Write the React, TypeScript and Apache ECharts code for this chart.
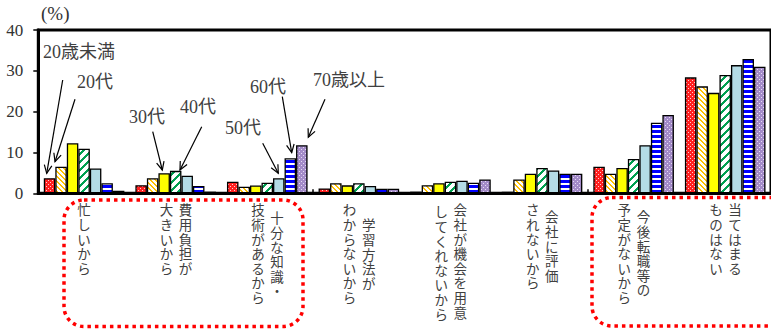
import React, { useEffect, useRef } from "react";
import * as echarts from "echarts";

// ---- data ----
const categoryLines: string[][] = [
  ["忙しいから"],
  ["費用負担が", "大きいから"],
  ["十分な知識・", "技術があるから"],
  ["学習方法が", "わからないから"],
  ["会社が機会を用意", "してくれないから"],
  ["会社に評価", "されないから"],
  ["今後転職等の", "予定がないから"],
  ["当てはまる", "ものはない"],
];
const categories = categoryLines.map((l) => l.join(""));
const ageGroups = ["20歳未満", "20代", "30代", "40代", "50代", "60代", "70歳以上"];
const under20 = [3.7, 2.0, 2.85, 1.2, 0.4, 0.4, 6.5, 28.4];
const twenties = [6.5, 3.7, 1.6, 2.45, 2.0, 3.4, 4.8, 26.2];
const thirties = [12.25, 4.9, 1.9, 1.95, 2.45, 4.8, 6.2, 24.6];
const forties = [10.9, 5.5, 2.6, 2.45, 2.85, 6.2, 8.4, 29.0];
const fifties = [6.1, 4.3, 3.7, 1.8, 3.1, 5.6, 11.8, 31.4];
const sixties = [2.45, 1.8, 8.6, 1.1, 2.6, 4.8, 17.3, 32.9];
const seventiesPlus = [0.65, 0.4, 11.8, 1.1, 3.4, 4.8, 19.2, 31.0];
const seriesValues = [under20, twenties, thirties, forties, fifties, sixties, seventiesPlus];
const yMin = 0;
const yMax = 40;
const yInterval = 10;

// ---- styles ----
// vertical offset (px) of each label column, first entry = right-most column
const columnOffsets: number[][] = [[0], [0, 0], [8, 0], [15, 0], [0, 2], [7, 0], [7, 0], [0, 0]];

type Kind = "red" | "orange" | "yellow" | "green" | "lightblue" | "blue" | "purple";
const seriesKinds: Kind[] = ["red", "orange", "yellow", "green", "lightblue", "blue", "purple"];

function makePattern(kind: Kind): any {
  if (kind === "yellow") return "#ffff00";
  if (kind === "lightblue") return "#b4dce6";
  const sizes: Record<string, number> = { red: 4, orange: 5, green: 8, blue: 5, purple: 4 };
  const n = sizes[kind];
  const c = document.createElement("canvas");
  c.width = n;
  c.height = n;
  const ctx = c.getContext("2d")!;
  for (let y = 0; y < n; y++) {
    for (let x = 0; x < n; x++) {
      let col = "#ffffff";
      if (kind === "red") {
        col = (x === 0 && y === 0) || (x === 2 && y === 2) ? "#ffd0d0" : "#ff2020";
      } else if (kind === "purple") {
        col = (x === 1 && y === 1) || (x === 3 && y === 3) ? "#e6dcf4" : "#a38bc8";
      } else if (kind === "orange") {
        col = (((x - y) % n) + n) % n < 2 ? "#ffc000" : "#ffffff";
      } else if (kind === "green") {
        col = (x + y) % n < 3 ? "#00a050" : "#ffffff";
      } else if (kind === "blue") {
        col = y < 3 ? "#0000ff" : "#ffffff";
      }
      ctx.fillStyle = col;
      ctx.fillRect(x, y, 1, 1);
    }
  }
  return { image: c, repeat: "repeat", imageWidth: n, imageHeight: n };
}

type Ann = { text: string; x: number; y: number; from: [number, number]; to: [number, number] };
const annotations: Ann[] = [
  { text: "20歳未満", x: 43, y: 52, from: [62.7, 80], to: [46.7, 173.3] },
  { text: "20代", x: 77, y: 82, from: [75, 99.3], to: [55, 161.7] },
  { text: "30代", x: 129, y: 117, from: [152.7, 131.7], to: [162.3, 170] },
  { text: "40代", x: 180, y: 107, from: [201.7, 126.7], to: [180, 170] },
  { text: "50代", x: 225, y: 128, from: [262.7, 143.3], to: [278.3, 173.3] },
  { text: "60代", x: 250, y: 87, from: [282.3, 96.7], to: [291.7, 152.7] },
  { text: "70歳以上", x: 313, y: 80, from: [325, 99.3], to: [308.3, 137.3] },
];

function arrowElements(from: [number, number], to: [number, number]): any[] {
  const dx = to[0] - from[0];
  const dy = to[1] - from[1];
  const len = Math.sqrt(dx * dx + dy * dy);
  const ux = dx / len;
  const uy = dy / len;
  const h = 9;
  const a = (25 * Math.PI) / 180;
  const rot = (ang: number): [number, number] => {
    const rx = ux * Math.cos(ang) - uy * Math.sin(ang);
    const ry = ux * Math.sin(ang) + uy * Math.cos(ang);
    return [to[0] - rx * h, to[1] - ry * h];
  };
  return [
    {
      type: "line",
      shape: { x1: from[0], y1: from[1], x2: to[0], y2: to[1] },
      style: { stroke: "#000", lineWidth: 1.2 },
      z: 100,
    },
    {
      type: "polyline",
      shape: { points: [rot(a), to, rot(-a)] },
      style: { stroke: "#000", lineWidth: 1.2, fill: "none" },
      z: 100,
    },
  ];
}

export default function App() {
  const ref = useRef<HTMLDivElement>(null);
  useEffect(() => {
    if (!ref.current) return;
    const chart = echarts.init(ref.current, undefined, { renderer: "svg" });
    const option: any = {
      animation: false,
      backgroundColor: "#ffffff",
      grid: {
        left: 38.3,
        right: -4.1,
        top: 30,
        bottom: 135.7,
        show: true,
        borderColor: "#000",
        borderWidth: 3,
        backgroundColor: "transparent",
      },
      xAxis: {
        type: "category",
        data: categories,
        axisLine: { lineStyle: { color: "#000", width: 3 } },
        axisTick: { show: true, inside: true, length: 4, lineStyle: { color: "#000", width: 1.5 } },
        axisLabel: { show: false },
        splitLine: { show: false },
      },
      yAxis: {
        type: "value",
        min: yMin,
        max: yMax,
        interval: yInterval,
        axisLine: { show: true, lineStyle: { color: "#000", width: 3 } },
        axisTick: { show: true, inside: false, length: 5, lineStyle: { color: "#000", width: 1.5 } },
        axisLabel: {
          margin: 15,
          color: "#333",
          fontSize: 17,
          fontFamily: "Liberation Serif",
        },
        splitLine: { show: false },
      },
      series: seriesValues.map((vals, i) => ({
        name: ageGroups[i],
        type: "bar",
        data: vals,
        barGap: "0%",
        barCategoryGap: "12%",
        itemStyle: {
          color: makePattern(seriesKinds[i]),
          borderColor: "#000",
          borderWidth: 1.3,
        },
      })),
    };
    chart.setOption(option);

    const graphics: any[] = [];
    // (%) unit label
    graphics.push({
      type: "text",
      x: 41,
      y: 13,
      style: {
        text: "(%)",
        fontSize: 19,
        fontFamily: "Liberation Serif",
        fill: "#333",
        align: "left",
        verticalAlign: "middle",
      },
    });
    // vertical category labels
    categoryLines.forEach((lines, i) => {
      const cx = chart.convertToPixel({ xAxisIndex: 0 }, i) as number;
      lines.forEach((line, j) => {
        let x = cx;
        if (lines.length === 2) x = j === 0 ? cx + 9.8 : cx - 9.3;
        graphics.push({
          type: "text",
          x,
          y: 202 + columnOffsets[i][j],
          style: {
            text: line.split("").join("\n"),
            fontSize: 13.5,
            lineHeight: 14.6,
            fontFamily: "Noto Sans CJK JP",
            fill: "#404040",
            align: "center",
            verticalAlign: "top",
          },
        });
      });
    });
    // annotations
    annotations.forEach((a) => {
      graphics.push({
        type: "text",
        x: a.x,
        y: a.y,
        z: 100,
        style: {
          text: a.text,
          fontSize: 18,
          fontFamily: "Liberation Serif, Noto Sans CJK JP",
          fill: "#404040",
          align: "left",
          verticalAlign: "middle",
        },
      });
      graphics.push(...arrowElements(a.from, a.to));
    });
    // dotted rounded frames
    graphics.push({
      type: "rect",
      shape: { x: 64, y: 200, width: 239, height: 126.5, r: 20 },
      style: { fill: "none", stroke: "#ff0000", lineWidth: 3.5, lineDash: [3.5, 4] },
      z: 100,
    });
    graphics.push({
      type: "rect",
      shape: { x: 592, y: 197.5, width: 200, height: 128.5, r: 20 },
      style: { fill: "none", stroke: "#ff0000", lineWidth: 3.5, lineDash: [3.5, 4] },
      z: 100,
    });
    chart.setOption({ graphic: graphics });

    return () => chart.dispose();
  }, []);
  return (
    <div
      ref={ref}
      style={{ position: "fixed", left: 0, top: 0, width: 771, height: 329 }}
    />
  );
}
